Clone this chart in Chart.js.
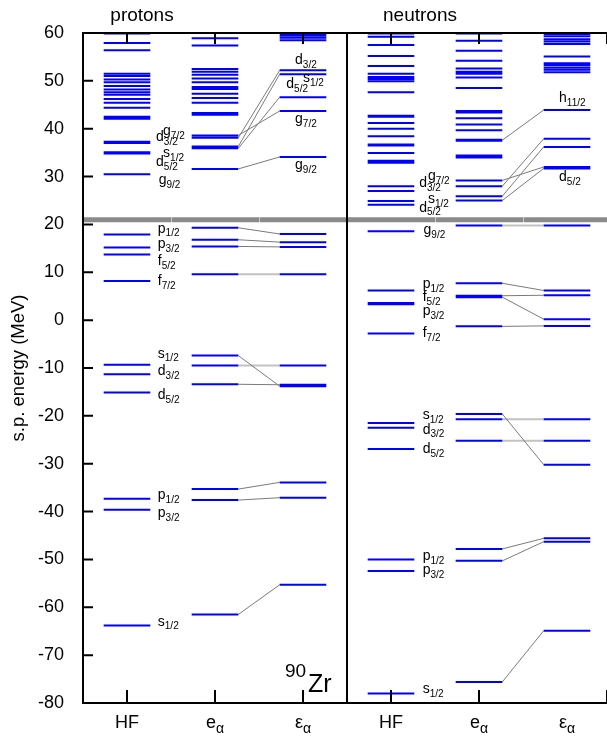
<!DOCTYPE html>
<html>
<head>
<meta charset="utf-8">
<script src="https://cdn.jsdelivr.net/npm/chart.js@4.4.1/dist/chart.umd.min.js"></script>
<style>
  html, body { margin: 0; padding: 0; background: #fff; }
</style>
</head>
<body>
<canvas id="c" width="607" height="738"></canvas>
<script>
// ===== 数据 =====
// 横轴上的六列：质子 HF / e_α / ε_α，中子 HF / e_α / ε_α
const columnNames = ['HF', 'e', 'ε', 'HF', 'e', 'ε'];
const columnSubs  = ['', 'α', 'α', '', 'α', 'α'];
const yTicks = [-80, -70, -60, -50, -40, -30, -20, -10, 0, 10, 20, 30, 40, 50, 60];

// 单粒子能级 (MeV)
const protonHF = [59.9, 57.9, 56.4, 51.5, 51.0, 50.3, 49.7, 48.9, 48.2, 47.6, 47.1, 46.2, 45.4, 44.4,
  42.5, 42.1, 37.3, 37.0, 35.1, 34.8, 30.5, 17.9, 15.2, 13.7, 8.2, -9.3, -11.3, -15.1, -37.3, -39.6, -63.8];
const protonE = [58.9, 57.4, 52.5, 51.9, 51.3, 50.5, 49.7, 48.7, 48.3, 47.3, 46.4, 45.4, 43.3, 42.9,
  38.6, 38.1, 36.3, 35.9, 31.6, 19.3, 16.8, 15.4, 9.6, -7.4, -9.5, -13.4, -35.3, -37.6, -61.5];
const protonEps = [59.9, 59.5, 59.0, 58.5, 52.2, 51.4, 46.6, 43.7, 34.1, 18.0, 16.3, 15.3, 9.6,
  -9.5, -13.5, -13.8, -33.9, -37.1, -55.3];

const neutronHF = [59.9, 59.2, 57.5, 55.2, 53.1, 51.5, 50.8, 50.4, 49.9, 47.6, 42.7, 42.5, 41.2, 40.0,
  38.4, 36.7, 36.5, 34.9, 33.3, 32.9, 28.0, 27.0, 24.9, 24.1, 18.6, 6.2, 3.6, 3.3, -2.8,
  -21.5, -22.5, -26.9, -50.0, -52.4, -78.0];
const neutronE = [59.9, 58.4, 56.3, 54.2, 52.6, 51.9, 51.5, 50.7, 48.5, 43.7, 43.4, 42.2, 40.9, 39.7,
  37.7, 37.5, 34.4, 34.0, 29.2, 28.0, 25.9, 25.0, 19.8, 7.7, 5.1, 4.8, -1.3, -19.6, -20.7, -25.2,
  -47.8, -50.3, -75.6];
const neutronEps = [59.8, 59.3, 58.7, 58.2, 57.7, 55.1, 53.7, 53.3, 52.8, 52.3, 51.8, 43.9, 37.9, 36.2,
  32.0, 31.7, 19.8, 6.2, 5.2, 0.2, -1.2, -20.7, -25.2, -30.2, -45.6, -46.3, -64.9];

// e_α -> ε_α 的对应连线 [e, ε]
const protonLinks = [[38.6, 43.7], [38.1, 52.2], [36.3, 51.4], [35.9, 46.6], [31.6, 34.1],
  [19.3, 18.0], [16.8, 16.3], [15.4, 15.3], [9.6, 9.6], [-7.4, -13.8], [-9.5, -9.5], [-13.4, -13.5],
  [-35.3, -33.9], [-37.6, -37.1], [-61.5, -55.3]];
const neutronLinks = [[37.6, 43.9], [29.2, 32.0], [28.0, 37.9], [25.9, 36.2], [25.0, 31.7],
  [19.8, 19.8], [7.7, 6.2], [5.1, 5.2], [4.8, 0.2], [-1.3, -1.2], [-19.6, -30.2], [-20.7, -20.7],
  [-25.2, -25.2], [-47.8, -45.6], [-50.3, -46.3], [-75.6, -64.9]];

// 分隔线（约 21 MeV）
const separatorE = 21.0;

// 能级标注 [列, 横向偏移, 能量, 字母, j]
const levelLabels = [
  [1, 0.41, 39.4, 'g', '7/2'], [1, 0.33, 38.2, 'd', '3/2'], [1, 0.41, 34.9, 's', '1/2'],
  [1, 0.33, 33.0, 'd', '5/2'], [1, 0.36, 29.2, 'g', '9/2'],
  [1, 0.35, 19.1, 'p', '1/2'], [1, 0.35, 15.8, 'p', '3/2'], [1, 0.35, 12.3, 'f', '5/2'],
  [1, 0.35, 8.1, 'f', '7/2'], [1, 0.35, -7.0, 's', '1/2'], [1, 0.35, -10.7, 'd', '3/2'],
  [1, 0.35, -15.6, 'd', '5/2'], [1, 0.35, -36.5, 'p', '1/2'], [1, 0.35, -40.3, 'p', '3/2'],
  [1, 0.35, -63.0, 's', '1/2'],
  [3, -0.09, 54.3, 'd', '3/2'], [3, 0.0, 50.5, 's', '1/2'], [3, -0.19, 49.3, 'd', '5/2'],
  [3, -0.09, 42.0, 'g', '7/2'], [3, -0.09, 32.4, 'g', '9/2'],
  [4, 0.42, 30.1, 'g', '7/2'], [4, 0.32, 28.7, 'd', '3/2'], [4, 0.42, 25.2, 's', '1/2'],
  [4, 0.32, 23.5, 'd', '5/2'], [4, 0.37, 18.8, 'g', '9/2'],
  [4, 0.36, 7.6, 'p', '1/2'], [4, 0.36, 4.8, 'f', '5/2'], [4, 0.36, 1.8, 'p', '3/2'],
  [4, 0.36, -2.7, 'f', '7/2'], [4, 0.36, -19.8, 's', '1/2'], [4, 0.36, -22.9, 'd', '3/2'],
  [4, 0.36, -26.9, 'd', '5/2'], [4, 0.36, -49.3, 'p', '1/2'], [4, 0.36, -52.2, 'p', '3/2'],
  [4, 0.36, -77.1, 's', '1/2'],
  [6, -0.09, 46.4, 'h', '11/2'], [6, -0.09, 29.9, 'd', '5/2'],
];

// ===== 样式 =====
const FONT = '"Liberation Sans", Arial, Helvetica, sans-serif';
const HALF = 0.265;          // 能级线半宽（列单位）
const X_MAX = 0.5 + 524 / 88; // 右侧被裁切

// 每条能级线：两点 + 一个空点断开
function levelPoints(col, vals) {
  const pts = [];
  for (const v of vals) {
    pts.push({ x: col - HALF, y: v }, { x: col + HALF, y: v }, { x: col + HALF, y: null });
  }
  return pts;
}
function linkPoints(col, links, flat) {
  const pts = [];
  for (const [a, b] of links) {
    if ((Math.abs(a - b) < 0.05) !== flat) continue;
    pts.push({ x: col + HALF, y: a }, { x: col + 1 - HALF, y: b }, { x: col + 1 - HALF, y: null });
  }
  return pts;
}

const levels = [
  ...levelPoints(1, protonHF), ...levelPoints(2, protonE), ...levelPoints(3, protonEps),
  ...levelPoints(4, neutronHF), ...levelPoints(5, neutronE), ...levelPoints(6, neutronEps),
];
const slopedLinks = [...linkPoints(2, protonLinks, false), ...linkPoints(5, neutronLinks, false)];
const flatLinks = [...linkPoints(2, protonLinks, true), ...linkPoints(5, neutronLinks, true)];

function drawSub(ctx, x, y, main, sub, size, subSize, dy, center) {
  ctx.font = `${size}px ${FONT}`;
  const w1 = ctx.measureText(main).width;
  ctx.font = `${subSize}px ${FONT}`;
  const w2 = ctx.measureText(sub).width;
  const x0 = center ? x - (w1 + w2) / 2 : x;
  ctx.font = `${size}px ${FONT}`;
  ctx.fillText(main, x0, y);
  ctx.font = `${subSize}px ${FONT}`;
  ctx.fillText(sub, x0 + w1, y + dy);
}

// 边框、内向刻度、文字
const decor = {
  id: 'decor',
  afterDatasetDraw(chart, args) {
    if (args.index !== 0) return;
    const { ctx, chartArea: a, scales: { x } } = chart;
    ctx.save();
    ctx.strokeStyle = 'rgba(255,255,255,0.55)';
    ctx.lineWidth = 1;
    for (const v of [1.5, 2.5, 4.5, 5.5]) {
      const px = Math.round(x.getPixelForValue(v)) + 0.5;
      ctx.beginPath(); ctx.moveTo(px, a.top); ctx.lineTo(px, a.bottom); ctx.stroke();
    }
    ctx.restore();
  },
  afterDraw(chart) {
    const { ctx, chartArea: a, scales: { x, y } } = chart;
    ctx.save();
    ctx.strokeStyle = '#000';
    ctx.lineWidth = 2;
    ctx.beginPath();
    ctx.moveTo(a.right + 5, a.top); ctx.lineTo(a.left, a.top);
    ctx.lineTo(a.left, a.bottom); ctx.lineTo(a.right + 5, a.bottom);
    const xd = x.getPixelForValue(3.5);
    ctx.moveTo(xd, a.top); ctx.lineTo(xd, a.bottom);
    for (const t of y.ticks) {
      const py = y.getPixelForValue(t.value);
      ctx.moveTo(a.left, py); ctx.lineTo(a.left + 10, py);
    }
    for (const t of x.ticks) {
      const px = x.getPixelForValue(t.value);
      ctx.moveTo(px, a.top); ctx.lineTo(px, a.top + 11);
      ctx.moveTo(px, a.bottom); ctx.lineTo(px, a.bottom - 13);
    }
    ctx.stroke();

    ctx.fillStyle = '#000';
    // 横轴标签
    ctx.textBaseline = 'alphabetic';
    columnNames.forEach((n, i) => {
      drawSub(ctx, x.getPixelForValue(i + 1), 728, n, columnSubs[i], 18, 14, 5, true);
    });
    // 能级标注
    ctx.textBaseline = 'middle';
    for (const [col, dx, e, l, j] of levelLabels) {
      drawSub(ctx, x.getPixelForValue(col + dx), y.getPixelForValue(e), l, j, 14, 10, 5, false);
    }
    // 标题
    ctx.textBaseline = 'alphabetic';
    ctx.textAlign = 'center';
    ctx.font = `19px ${FONT}`;
    ctx.fillText('protons', 142, 21);
    ctx.fillText('neutrons', 420, 21);
    ctx.textAlign = 'left';
    ctx.font = `19px ${FONT}`;
    ctx.fillText('90', 285, 677);
    ctx.font = `25px ${FONT}`;
    ctx.fillText('Zr', 308, 692);
    // 纵轴标题
    ctx.translate(19, (a.top + a.bottom) / 2);
    ctx.rotate(-Math.PI / 2);
    ctx.textAlign = 'center';
    ctx.textBaseline = 'middle';
    ctx.font = `18.5px ${FONT}`;
    ctx.fillText('s.p. energy (MeV)', 0, 0);
    ctx.restore();
  },
};

new Chart(document.getElementById('c'), {
  type: 'line',
  data: {
    datasets: [
      { data: [{ x: 0.5, y: separatorE }, { x: X_MAX, y: separatorE }], borderColor: '#8a8a8a', borderWidth: 5, order: 4 },
      { data: flatLinks, borderColor: '#c2c2c2', borderWidth: 2, order: 3 },
      { data: slopedLinks, borderColor: '#7a7a7a', borderWidth: 1, order: 2 },
      { data: levels, borderColor: '#0000ff', borderWidth: 2, order: 1 },
    ],
  },
  options: {
    responsive: false,
    animation: false,
    devicePixelRatio: 1,
    layout: { padding: { top: 33, right: 0, bottom: 0, left: 0 } },
    elements: { point: { radius: 0 }, line: { tension: 0, borderCapStyle: 'butt' } },
    plugins: { legend: { display: false }, tooltip: { enabled: false } },
    scales: {
      x: {
        type: 'linear', min: 0.5, max: X_MAX,
        ticks: { display: false, stepSize: 1 },
        grid: { display: false }, border: { display: false },
        afterFit: (s) => { s.height = 35; },
      },
      y: {
        min: -80, max: 60,
        afterBuildTicks: (s) => { s.ticks = yTicks.map((v) => ({ value: v })); },
        ticks: { color: '#000', font: { family: FONT, size: 18 }, padding: 11 },
        grid: { display: false }, border: { display: false },
        afterFit: (s) => { s.width = 83; },
      },
    },
  },
  plugins: [decor],
});
</script>
</body>
</html>
